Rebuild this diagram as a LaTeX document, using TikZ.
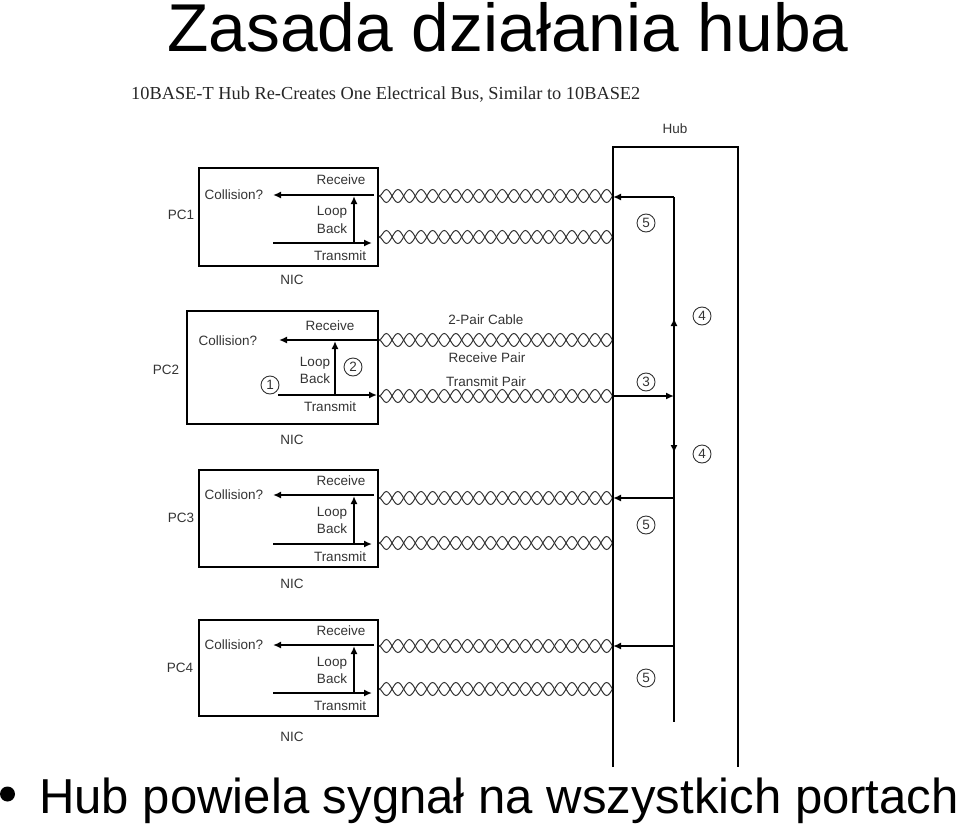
\documentclass[tikz,border=0pt]{standalone}
\usepackage{fontspec}
\setmainfont{Liberation Sans}
\newfontfamily\headfont{Liberation Serif}
\usetikzlibrary{arrows.meta}
\usetikzlibrary{decorations.pathmorphing}
\definecolor{labgray}{HTML}{333333}
\tikzset{
  card/.style={draw,line width=1.6pt,inner sep=0pt},
  lab/.style={inner sep=0pt,text=labgray,font=\fontsize{13.5}{15}\selectfont},
  num/.style={draw=labgray,circle,line width=.9pt,minimum size=18,inner sep=0pt,text=labgray,font=\fontsize{13.5}{15}\selectfont},
  wire/.style={line width=1.6pt},
  sig/.style={line width=1.6pt,-{Latex[length=8,width=7]}},
  twista/.style={draw=labgray,line width=1pt,decorate,decoration={snake,segment length=23.2,amplitude=6.5}},
  twistb/.style={draw=labgray,line width=1pt,decorate,decoration={snake,segment length=23.2,amplitude=6.5,mirror}},
}
\begin{document}
\begin{tikzpicture}[x=1pt,y=-1pt]
    \useasboundingbox (0,0) rectangle (960,824);
    \node [inner sep=0pt,anchor=base,font=\fontsize{67.7}{74}\selectfont] (title) at (508,52) {Zasada działania huba};
    \node [inner sep=0pt,anchor=base west,font=\fontsize{49.1}{54}\selectfont] (foot) at (39,813) {Hub powiela sygnał na wszystkich portach};
    \node [circle,fill,inner sep=0pt,minimum size=15] (dot) at (7.5,794) {};
    \node [inner sep=0pt,anchor=base west,text=black!85,font=\headfont\fontsize{18.35}{20}\selectfont] (head) at (131,100) {10BASE-T Hub Re-Creates One Electrical Bus, Similar to 10BASE2};

    \node [card,minimum width=179,minimum height=98] (card1) at (288.5,217) {};
    \node [card,minimum width=191,minimum height=113] (card2) at (282.5,367.5) {};
    \node [card,minimum width=179,minimum height=97] (card3) at (288.5,518.5) {};
    \node [card,minimum width=179,minimum height=96] (card4) at (288.5,668) {};

    \node [lab] (pc1) at (181,215) {PC1};
    \node [lab] (pc2) at (166,370) {PC2};
    \node [lab] (pc3) at (181,518) {PC3};
    \node [lab] (pc4) at (180,668) {PC4};
    \node [lab] (nic1) at (292,280) {NIC};
    \node [lab] (nic2) at (292,440) {NIC};
    \node [lab] (nic3) at (292,584) {NIC};
    \node [lab] (nic4) at (292,737) {NIC};

    \node [lab] (col1) at (234,195) {Collision?};
    \node [lab] (rec1) at (341,180) {Receive};
    \node [lab] (loop1) at (332,212) {Loop};
    \node [lab] (back1) at (332,229) {Back};
    \node [lab] (tra1) at (340,256) {Transmit};
    \node [lab] (col2) at (228,341) {Collision?};
    \node [lab] (rec2) at (330,326) {Receive};
    \node [lab] (loop2) at (315,363) {Loop};
    \node [lab] (back2) at (315,379) {Back};
    \node [lab] (tra2) at (330,407) {Transmit};
    \node [lab] (col3) at (234,495) {Collision?};
    \node [lab] (rec3) at (341,481) {Receive};
    \node [lab] (loop3) at (332,513) {Loop};
    \node [lab] (back3) at (332,529) {Back};
    \node [lab] (tra3) at (340,557) {Transmit};
    \node [lab] (col4) at (234,645) {Collision?};
    \node [lab] (rec4) at (341,631) {Receive};
    \node [lab] (loop4) at (332,663) {Loop};
    \node [lab] (back4) at (332,679) {Back};
    \node [lab] (tra4) at (340,706) {Transmit};

    \node [lab] (cable) at (486,320) {2-Pair Cable};
    \node [lab] (rpair) at (487,358) {Receive Pair};
    \node [lab] (tpair) at (486,382) {Transmit Pair};
    \node [lab] (hub) at (675,129) {Hub};

    \node [num] (n1) at (270,385) {1};
    \node [num] (n2) at (353,367) {2};
    \node [num] (n3) at (646,382) {3};
    \node [num] (n4a) at (702,316) {4};
    \node [num] (n4b) at (702,454) {4};
    \node [num] (n5a) at (646,223) {5};
    \node [num] (n5b) at (646,525) {5};
    \node [num] (n5c) at (646,678) {5};

    \coordinate (r1a) at (374,195);
    \coordinate (r1b) at (273,195);
    \coordinate (t1a) at (273,243);
    \coordinate (t1b) at (372,243);
    \coordinate (l1a) at (354,243);
    \coordinate (l1b) at (354,196);
    \coordinate (r2a) at (378,340);
    \coordinate (r2b) at (279,340);
    \coordinate (t2a) at (278,395);
    \coordinate (t2b) at (377,395);
    \coordinate (l2a) at (335,395);
    \coordinate (l2b) at (335,341);
    \coordinate (r3a) at (374,495);
    \coordinate (r3b) at (273,495);
    \coordinate (t3a) at (273,544);
    \coordinate (t3b) at (372,544);
    \coordinate (l3a) at (354,544);
    \coordinate (l3b) at (354,496);
    \coordinate (r4a) at (374,645);
    \coordinate (r4b) at (273,645);
    \coordinate (t4a) at (273,693);
    \coordinate (t4b) at (372,693);
    \coordinate (l4a) at (354,693);
    \coordinate (l4b) at (354,646);
    \draw [sig] (r1a) -- (r1b);
    \draw [sig] (t1a) -- (t1b);
    \draw [sig] (l1a) -- (l1b);
    \draw [sig] (r2a) -- (r2b);
    \draw [sig] (t2a) -- (t2b);
    \draw [sig] (l2a) -- (l2b);
    \draw [sig] (r3a) -- (r3b);
    \draw [sig] (t3a) -- (t3b);
    \draw [sig] (l3a) -- (l3b);
    \draw [sig] (r4a) -- (r4b);
    \draw [sig] (t4a) -- (t4b);
    \draw [sig] (l4a) -- (l4b);

    \coordinate (cr1) at (379,196);
    \coordinate (hr1) at (640,196);
    \coordinate (ct1) at (379,237);
    \coordinate (ht1) at (640,237);
    \coordinate (cr2) at (379,340);
    \coordinate (hr2) at (640,340);
    \coordinate (ct2) at (379,396);
    \coordinate (ht2) at (640,396);
    \coordinate (cr3) at (379,498);
    \coordinate (hr3) at (640,498);
    \coordinate (ct3) at (379,543);
    \coordinate (ht3) at (640,543);
    \coordinate (cr4) at (379,646);
    \coordinate (hr4) at (640,646);
    \coordinate (ct4) at (379,689);
    \coordinate (ht4) at (640,689);
    \begin{scope}
    \clip (375,170) rectangle (612,710);
    \draw [twista] (cr1) -- (hr1);
    \draw [twistb] (cr1) -- (hr1);
    \draw [twista] (ct1) -- (ht1);
    \draw [twistb] (ct1) -- (ht1);
    \draw [twista] (cr2) -- (hr2);
    \draw [twistb] (cr2) -- (hr2);
    \draw [twista] (ct2) -- (ht2);
    \draw [twistb] (ct2) -- (ht2);
    \draw [twista] (cr3) -- (hr3);
    \draw [twistb] (cr3) -- (hr3);
    \draw [twista] (ct3) -- (ht3);
    \draw [twistb] (ct3) -- (ht3);
    \draw [twista] (cr4) -- (hr4);
    \draw [twistb] (cr4) -- (hr4);
    \draw [twista] (ct4) -- (ht4);
    \draw [twistb] (ct4) -- (ht4);
    \end{scope}

    \coordinate (hubbl) at (613,767);
    \coordinate (hubtl) at (613,147);
    \coordinate (hubtr) at (738,147);
    \coordinate (hubbr) at (738,767);
    \draw [wire] (hubbl) -- (hubtl) -- (hubtr) -- (hubbr);

    \coordinate (bus1) at (674,197);
    \coordinate (bus2) at (674,396);
    \coordinate (bus3) at (674,498);
    \coordinate (bus4) at (674,646);
    \coordinate (busend) at (674,722);
    \coordinate (up4) at (674,318);
    \coordinate (down4) at (674,453);
    \coordinate (p1) at (613,197);
    \coordinate (p2) at (613,396);
    \coordinate (p3) at (613,498);
    \coordinate (p4) at (613,646);
    \draw [wire] (bus1) -- (busend);
    \draw [sig] (bus2) -- (up4);
    \draw [sig] (bus2) -- (down4);
    \draw [sig] (bus1) -- (p1);
    \draw [sig] (p2) -- (bus2);
    \draw [sig] (bus3) -- (p3);
    \draw [sig] (bus4) -- (p4);
\end{tikzpicture}
\end{document}
